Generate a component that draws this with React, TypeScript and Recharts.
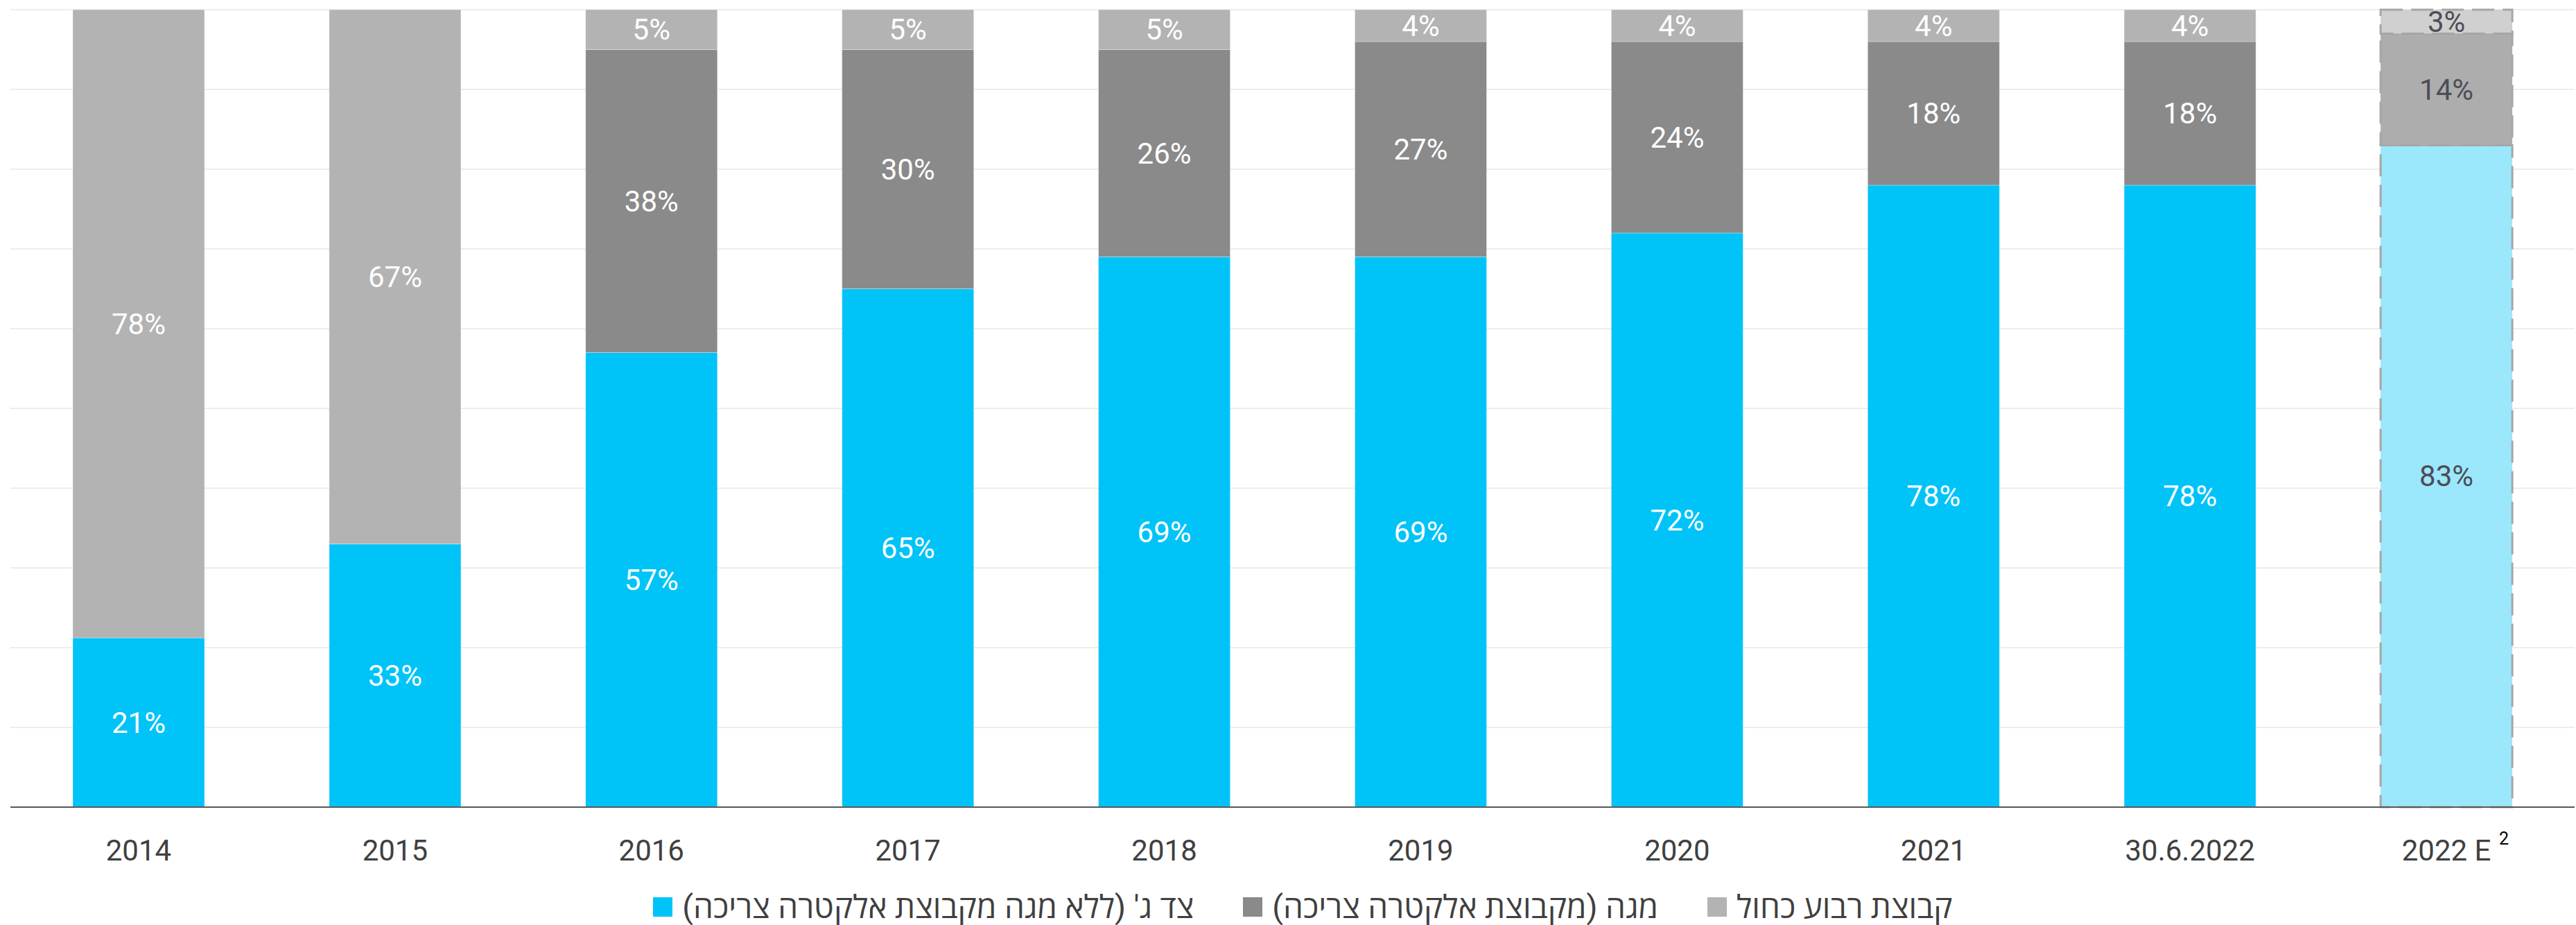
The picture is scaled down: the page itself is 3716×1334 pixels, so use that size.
import React from 'react';
import { BarChart, Bar, XAxis, YAxis, CartesianGrid, Legend, Cell, LabelList } from 'recharts';

const categories = ['2014', '2015', '2016', '2017', '2018', '2019', '2020', '2021', '30.6.2022', '2022 E'];
const thirdParty = [21, 33, 57, 65, 69, 69, 72, 78, 78, 83];
const mega = [0, 0, 38, 30, 26, 27, 24, 18, 18, 14];
const blueSquare = [78, 67, 5, 5, 5, 4, 4, 4, 4, 3];
const yTicks = [0, 0.1, 0.2, 0.3, 0.4, 0.5, 0.6, 0.7, 0.8, 0.9, 1];

const seriesNames = {
  thirdParty: "צד ג' (ללא מגה מקבוצת אלקטרה צריכה)",
  mega: 'מגה (מקבוצת אלקטרה צריכה)',
  blueSquare: 'קבוצת רבוע כחול',
};

const data = categories.map((name, i) => ({
  name,
  thirdParty: thirdParty[i],
  mega: mega[i],
  blueSquare: blueSquare[i],
}));

const FORECAST = categories.length - 1;
const FONT = "Roboto, 'Open Sans', 'Liberation Sans', sans-serif";

const CHART_W = 3716;
const CHART_H = 1334;
const MARGIN = { top: 14, right: 2, left: 15, bottom: 0 };
const BAND = (CHART_W - MARGIN.left - MARGIN.right) / categories.length;

const COLORS = {
  thirdParty: '#00C3F8',
  mega: '#8A8A8A',
  blueSquare: '#B3B3B3',
};
const FORECAST_FILL = {
  thirdParty: '#9BE7FC',
  mega: '#ADADAD',
  blueSquare: '#D0D0D0',
};

const makeLabel = (values: number[]) => (props: any) => {
  const { x, y, width, height } = props;
  const cx = Number(x) + Number(width) / 2;
  const index = Math.round((cx - MARGIN.left - BAND / 2) / BAND);
  const v = values[index];
  if (!v) return null;
  return (
    <text
      x={cx}
      y={Number(y) + Number(height) / 2}
      textAnchor="middle"
      dominantBaseline="central"
      fontSize={42}
      fontFamily={FONT}
      fill={index === FORECAST ? '#4D4D57' : '#FFFFFF'}
    >
      {v}%
    </text>
  );
};

const Tick = (props: any) => {
  const { x, y, payload } = props;
  const label: string = payload.value;
  const isForecast = label === categories[FORECAST];
  return (
    <g>
      <text x={x} y={y + 69} textAnchor="middle" fontSize={42} fontFamily={FONT} fill="#404040">
        {label}
      </text>
      {isForecast && (
        <text x={x + 76} y={y + 46} textAnchor="start" fontSize={25} fontFamily={FONT} fill="#000000">
          2
        </text>
      )}
    </g>
  );
};

const seriesKeys: Array<'thirdParty' | 'mega' | 'blueSquare'> = ['thirdParty', 'mega', 'blueSquare'];
const seriesValues = { thirdParty, mega, blueSquare };

const LegendContent = () => (
  <div
    style={{
      display: 'flex',
      justifyContent: 'center',
      alignItems: 'center',
      height: 60,
      paddingTop: 8,
      paddingLeft: 30,
      boxSizing: 'border-box',
      fontFamily: FONT,
      fontSize: 46,
      color: '#404040',
    }}
  >
    {seriesKeys.map((key, i) => (
      <div key={key} style={{ display: 'flex', alignItems: 'center', marginLeft: i === 0 ? 0 : 71 }}>
        <span style={{ width: 28, height: 28, background: COLORS[key], display: 'inline-block', marginRight: 14 }} />
        <span dir="rtl" style={{ direction: 'rtl', whiteSpace: 'nowrap', lineHeight: '52px' }}>
          {seriesNames[key]}
        </span>
      </div>
    ))}
  </div>
);

export default function App() {
  return (
    <div style={{ position: 'absolute', left: 0, top: 0, width: CHART_W, height: CHART_H, background: '#FFFFFF' }}>
      <BarChart width={CHART_W} height={CHART_H} data={data} stackOffset="expand" margin={MARGIN} barSize={190}>
        <CartesianGrid vertical={false} stroke="#EEEEE6" strokeWidth={2} />
        <YAxis hide domain={[0, 1]} ticks={yTicks} />
        <XAxis
          dataKey="name"
          interval={0}
          tickLine={false}
          axisLine={{ stroke: '#595959', strokeWidth: 2 }}
          height={110}
          tick={<Tick />}
        />
        {seriesKeys.map((key) => (
          <Bar key={key} dataKey={key} name={seriesNames[key]} stackId="a" isAnimationActive={false} fill={COLORS[key]}>
            {data.map((_, i) =>
              i === FORECAST ? (
                <Cell key={i} fill={FORECAST_FILL[key]} stroke="#A6A6A6" strokeWidth={3} strokeDasharray="32 12" />
              ) : (
                <Cell key={i} fill={COLORS[key]} stroke="rgba(255,255,255,0.3)" strokeWidth={1} />
              )
            )}
            <LabelList dataKey={key} content={makeLabel(seriesValues[key])} />
          </Bar>
        ))}
        <Legend verticalAlign="bottom" content={<LegendContent />} />
      </BarChart>
    </div>
  );
}
